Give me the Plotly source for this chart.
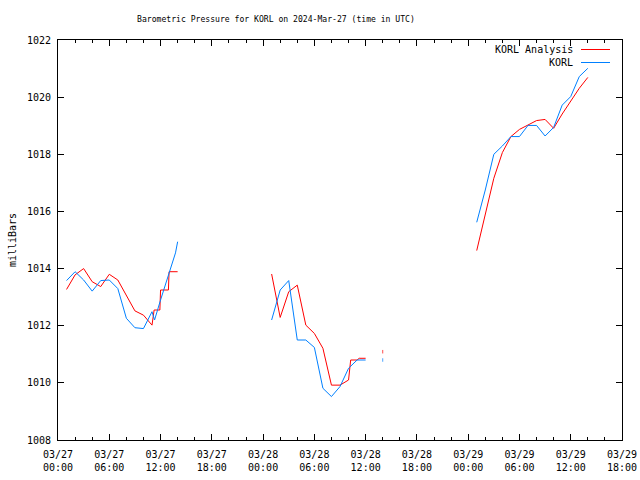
import pandas as pd
import plotly.graph_objects as go

base = pd.Timestamp("2024-03-27 00:00")

# hours since 2024-03-27 00:00 UTC (None = gap)
red_hours = [1, 2, 3, 4, 5, 6, 7, 8, 9, 10, 11, 11.25, 11.92, 12, 12.92, 13, 14, None,
             25, 26, 27, 28, 29, 30, 31, 32, 33, 34, 34.25, 35, 35.25, 36, None,
             38, None,
             49, 50, 51, 52, 53, 54, 55, 56, 57, 58, 59, 60, 61, 62]
red_vals = [1013.27, 1013.78, 1014.0, 1013.54, 1013.37, 1013.8, 1013.6, 1013.07, 1012.52, 1012.37,
            1012.02, 1012.55, 1012.55, 1013.25, 1013.25, 1013.89, 1013.89, None,
            1013.81, 1012.29, 1013.19, 1013.42, 1012.02, 1011.73, 1011.21, 1009.92, 1009.92,
            1010.1, 1010.8, 1010.8, 1010.86, 1010.86, None,
            1011.09, None,
            1014.63, 1015.93, 1017.16, 1018.06, 1018.62, 1018.87, 1019.02, 1019.18, 1019.22,
            1018.91, 1019.41, 1019.84, 1020.31, 1020.69]

blue_hours = [1, 2, 3, 4, 5, 6, 7, 8, 9, 10, 11, 11.3, 12, 13, 13.5, 13.75, 14, None,
              25, 26, 27, 28, 29, 30, 31, 32, 33, 34, 35, 36, None,
              38, None,
              49, 50, 51, 52, 53, 54, 55, 56, 57, 58, 59, 60, 61, 62]
blue_vals = [1013.58, 1013.89, 1013.6, 1013.21, 1013.58, 1013.6, 1013.3, 1012.26, 1011.93, 1011.9,
             1012.49, 1012.2, 1012.9, 1013.89, 1014.3, 1014.55, 1014.94, None,
             1012.2, 1013.25, 1013.58, 1011.5, 1011.5, 1011.24, 1009.81, 1009.52, 1009.87,
             1010.51, 1010.8, 1010.8, None,
             1010.8, None,
             1015.62, 1016.75, 1018.0, 1018.29, 1018.62, 1018.62, 1019.01, 1019.01, 1018.64,
             1018.94, 1019.72, 1020.02, 1020.72, 1021.01]

series_names = ["KORL Analysis", "KORL"]
series_colors = ["#ff0000", "#0080ff"]


def to_times(hours):
    return [None if h is None else base + pd.Timedelta(hours=h) for h in hours]


def iso_sizes(vals):
    out = []
    for i, v in enumerate(vals):
        prev_none = i == 0 or vals[i - 1] is None
        next_none = i == len(vals) - 1 or vals[i + 1] is None
        out.append(2.5 if (v is not None and prev_none and next_none) else 0)
    return out


fig = go.Figure()
for hours, vals, name, color in [(red_hours, red_vals, series_names[0], series_colors[0]),
                                 (blue_hours, blue_vals, series_names[1], series_colors[1])]:
    fig.add_trace(go.Scatter(
        x=to_times(hours), y=vals, name=name, mode="lines+markers",
        line=dict(color=color, width=1), connectgaps=False,
        marker=dict(color=color, size=iso_sizes(vals), symbol="line-ns",
                    line=dict(width=1, color=color)),
        showlegend=False, hoverinfo="skip"))

font_mono = "DejaVu Sans Mono"

# legend drawn gnuplot-style: text right-aligned, sample line on the right
for i, (name, color) in enumerate(zip(series_names, series_colors)):
    ypos = 1 - (9.5 + 13 * i) / 400
    fig.add_annotation(x=(575 - 58) / 564, y=ypos, xref="paper", yref="paper", text=name,
                       showarrow=False, xanchor="right", yanchor="middle",
                       font=dict(family=font_mono, size=10, color="black"))
    fig.add_shape(type="line", xref="paper", yref="paper", x0=(581 - 58) / 564, x1=(610 - 58) / 564,
                  y0=ypos, y1=ypos, line=dict(color=color, width=1))

fig.update_layout(
    width=640, height=480,
    margin=dict(l=58, r=18, t=40, b=40, autoexpand=False),
    paper_bgcolor="white", plot_bgcolor="white",
    font=dict(family=font_mono, size=10, color="black"),
    title=dict(text="Barometric Pressure for KORL on 2024-Mar-27 (time in UTC)",
               xref="container", x=276 / 640, xanchor="center",
               y=1 - 19 / 480, yanchor="middle",
               font=dict(family=font_mono, size=8.1, color="black")),
)

fig.update_xaxes(
    type="date",
    range=[base, base + pd.Timedelta(hours=66)],
    tick0=base, dtick=6 * 3600 * 1000,
    tickformat="%m/%d<br>%H:%M",
    ticks="inside", ticklen=6, tickcolor="black", tickwidth=1,
    minor=dict(ticks="inside", ticklen=3, dtick=2 * 3600 * 1000, tickcolor="black", showgrid=False),
    showline=True, linecolor="black", linewidth=1, mirror="ticks",
    showgrid=False, zeroline=False, automargin=False,
    ticklabelstandoff=5,
    tickfont=dict(family=font_mono, size=10),
)
fig.update_yaxes(
    range=[1008, 1022], dtick=2, tick0=1008,
    ticks="inside", ticklen=6, tickcolor="black", tickwidth=1,
    showline=True, linecolor="black", linewidth=1, mirror="ticks",
    showgrid=False, zeroline=False, automargin=False,
    ticklabelstandoff=4,
    title=dict(text="milliBars", font=dict(family=font_mono, size=10), standoff=8),
    tickfont=dict(family=font_mono, size=10),
)

fig.write_html("out.html")
